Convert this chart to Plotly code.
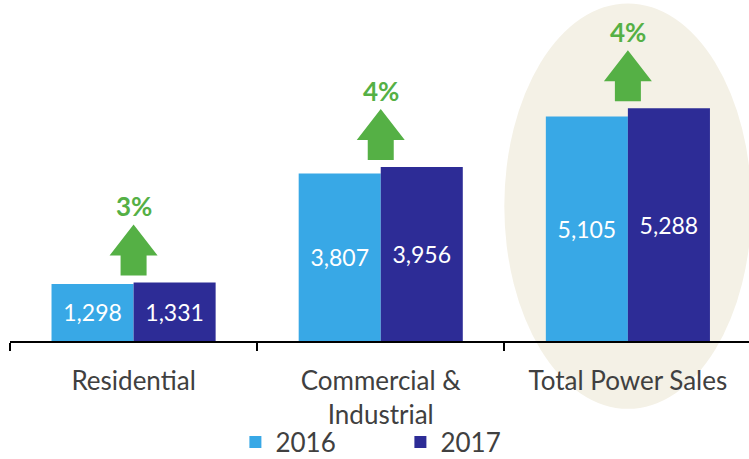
import plotly.graph_objects as go

categories = ["Residential", "Commercial &<br>Industrial", "Total Power Sales"]
sales_2016 = [1298, 3807, 5105]
sales_2017 = [1331, 3956, 5288]
growth_labels = ["3%", "4%", "4%"]
series_names = ["2016", "2017"]

C16 = "#38A8E6"
C17 = "#2D2C96"
GREEN = "#55B045"
FONT = "Lato, 'Open Sans', sans-serif"

fig = go.Figure()
fig.add_trace(go.Bar(
    x=categories, y=sales_2016, name=series_names[0], marker_color=C16,
    texttemplate="%{y:,}", textposition="inside", insidetextanchor="middle",
    textfont=dict(color="white", size=23, family=FONT), marker_line_width=0,
))
fig.add_trace(go.Bar(
    x=categories, y=sales_2017, name=series_names[1], marker_color=C17,
    texttemplate="%{y:,}", textposition="inside", insidetextanchor="middle",
    textfont=dict(color="white", size=23, family=FONT), marker_line_width=0,
))

shapes = [dict(
    type="circle", xref="x", yref="paper", x0=1.5, x1=2.5, y0=-0.199, y1=0.99,
    fillcolor="#F4F1E6", line_width=0, layer="below",
)]
annotations = []
arrow_path = "M -13 7 L 13 7 L 13 27 L 24 27 L 0 58 L -24 27 L -13 27 Z"
for cat, a, b, g in zip(categories, sales_2016, sales_2017, growth_labels):
    top = max(a, b)
    shapes.append(dict(
        type="path", xref="x", yref="y", xsizemode="pixel", ysizemode="pixel",
        xanchor=cat, yanchor=top, path=arrow_path,
        fillcolor=GREEN, line_width=0, layer="above",
    ))
    annotations.append(dict(
        x=cat, y=top, xref="x", yref="y", text=g, showarrow=False,
        yshift=76, font=dict(color=GREEN, size=26, family=FONT, weight="bold"),
    ))

fig.update_layout(
    width=749, height=459,
    margin=dict(l=10, r=0, t=0, b=118),
    paper_bgcolor="white", plot_bgcolor="rgba(0,0,0,0)",
    barmode="group", bargap=0.336, bargroupgap=0.0,
    shapes=shapes, annotations=annotations,
    showlegend=True,
    legend=dict(
        orientation="h", x=0.305, xanchor="left",
        yref="container", y=0.037, yanchor="middle",
        font=dict(size=26, color="#404040", family=FONT),
        entrywidth=120, entrywidthmode="pixels",
        bgcolor="rgba(0,0,0,0)",
    ),
    font=dict(family=FONT),
)
fig.update_xaxes(
    range=[-0.5, 2.49], showline=True, linecolor="black", linewidth=1.5,
    ticks="outside", tickson="boundaries", ticklen=8, tickcolor="black", tickwidth=1.5,
    tickfont=dict(size=26, color="#404040", family=FONT), ticklabelstandoff=16,
    showgrid=False, fixedrange=True, automargin=False,
)
fig.update_yaxes(range=[0, 7750], visible=False, showgrid=False, zeroline=False)

fig.write_html("out.html", config={"displayModeBar": False},
               post_script="document.body.style.margin='0';")
